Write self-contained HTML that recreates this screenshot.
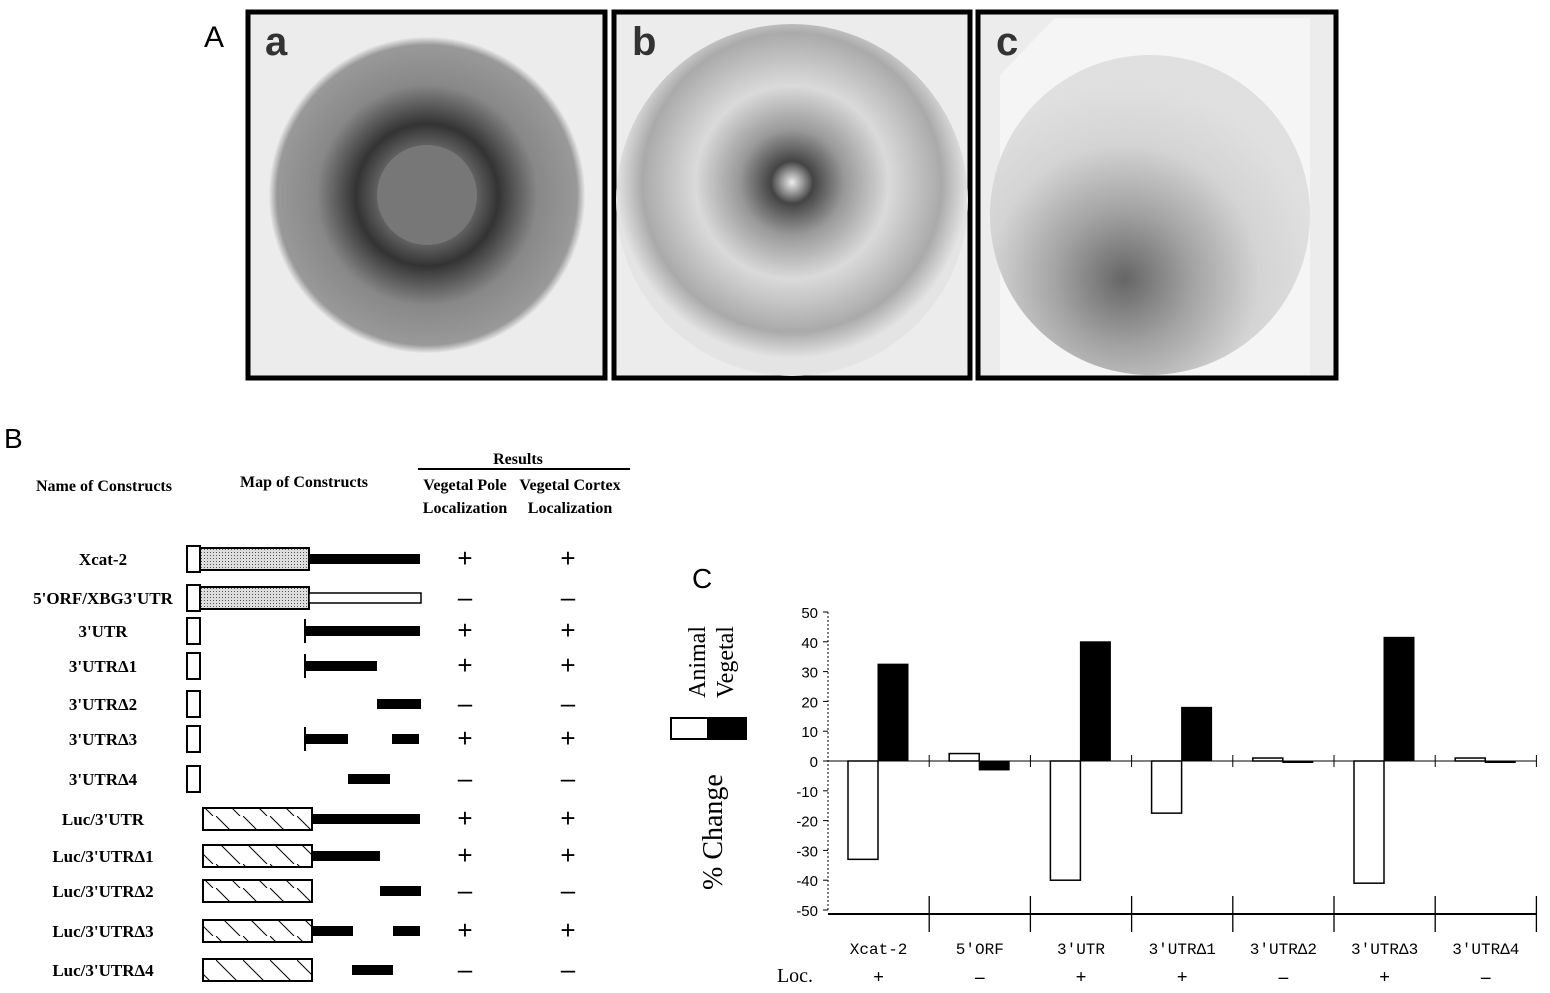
<!DOCTYPE html>
<html><head><meta charset="utf-8">
<style>
body{margin:0;background:#fff;}
svg{display:block;font-family:"Liberation Serif",serif;}
.sans{font-family:"Liberation Sans",sans-serif;}
.mono{font-family:"Liberation Mono",monospace;}
</style></head>
<body>
<svg width="1550" height="993" viewBox="0 0 1550 993">
<defs>
<radialGradient id="ga" cx="0.5" cy="0.5" r="0.5">
<stop offset="0" stop-color="#777"/><stop offset="0.3" stop-color="#666"/><stop offset="0.45" stop-color="#333"/><stop offset="0.7" stop-color="#888"/><stop offset="0.95" stop-color="#999"/><stop offset="1" stop-color="#e8e8e8"/></radialGradient>
<radialGradient id="gb" cx="0.5" cy="0.45" r="0.5">
<stop offset="0" stop-color="#eee"/><stop offset="0.12" stop-color="#444"/><stop offset="0.3" stop-color="#999"/><stop offset="0.55" stop-color="#dadada"/><stop offset="0.85" stop-color="#aaa"/><stop offset="1" stop-color="#e4e4e4"/></radialGradient>
<radialGradient id="gc" cx="0.42" cy="0.7" r="0.6">
<stop offset="0" stop-color="#555"/><stop offset="0.35" stop-color="#999"/><stop offset="0.7" stop-color="#d0d0d0"/><stop offset="1" stop-color="#ddd"/></radialGradient>
<clipPath id="ca"><rect x="250" y="14" width="353" height="362"/></clipPath>
<clipPath id="cb"><rect x="616" y="14" width="352" height="362"/></clipPath>
<clipPath id="cc"><rect x="980" y="14" width="354" height="362"/></clipPath>
<pattern id="dots" width="3" height="3" patternUnits="userSpaceOnUse"><rect width="3" height="3" fill="#ddd"/><rect width="1" height="1" fill="#555"/></pattern>
<pattern id="hatch" width="27" height="24" patternUnits="userSpaceOnUse"><line x1="0" y1="0" x2="24" y2="24" stroke="#000" stroke-width="1"/></pattern>
</defs>

<!-- Panel A -->
<text x="204" y="47" class="sans" font-size="30">A</text>
<g>
<rect x="248" y="12" width="357" height="366" fill="#ececec" stroke="#000" stroke-width="5"/>
<g clip-path="url(#ca)">
<circle cx="427" cy="195" r="158" fill="url(#ga)"/>
<circle cx="427" cy="195" r="50" fill="#777"/></g>
<text x="265" y="55" class="sans" font-size="40" font-weight="bold" fill="#333">a</text></g>
<g>
<rect x="614" y="12" width="356" height="366" fill="#ececec" stroke="#000" stroke-width="5"/>
<g clip-path="url(#cb)"><circle cx="792" cy="200" r="176" fill="url(#gb)"/></g>
<text x="632" y="55" class="sans" font-size="40" font-weight="bold" fill="#333">b</text></g>
<g>
<rect x="978" y="12" width="358" height="366" fill="#ececec" stroke="#000" stroke-width="5"/>
<g clip-path="url(#cc)">
<polygon points="1055,18 1310,18 1310,375 1000,375 1000,75" fill="#f5f5f5"/>
<circle cx="1150" cy="215" r="160" fill="url(#gc)" opacity="0.9"/></g>
<text x="996" y="55" class="sans" font-size="40" font-weight="bold" fill="#333">c</text></g>

<!-- Panel B -->
<g>
<text x="4" y="448" class="sans" font-size="28">B</text>
<g font-size="16" font-weight="bold" text-anchor="middle">
<text x="104" y="491">Name of Constructs</text>
<text x="304" y="487">Map of Constructs</text>
<text x="518" y="464">Results</text>
<text x="465" y="490">Vegetal Pole</text><text x="465" y="513">Localization</text>
<text x="570" y="490">Vegetal Cortex</text><text x="570" y="513">Localization</text>
</g>
<line x1="418" y1="469" x2="630" y2="469" stroke="#000" stroke-width="2"/>
<g id="rows"></g>
</g>

<!-- Panel C -->
<text x="692" y="588" class="sans" font-size="28">C</text>
<g>
<text transform="translate(705,698) rotate(-90)" font-size="24">Animal</text>
<text transform="translate(733,698) rotate(-90)" font-size="24">Vegetal</text>
<rect x="671" y="718" width="37" height="21" fill="#fff" stroke="#000" stroke-width="2"/>
<rect x="708" y="718" width="38" height="21" fill="#000" stroke="#000" stroke-width="2"/>
</g>
<text transform="translate(722,890) rotate(-90)" font-size="28">% Change</text>
<g id="chart"></g>
</svg>
<script>
const categories=["Xcat-2","5\u2032ORF","3\u2032UTR","3\u2032UTR\u03941","3\u2032UTR\u03942","3\u2032UTR\u03943","3\u2032UTR\u03944"];
const animalVals=[-33,2.5,-40,-17.5,1,-41,1];
const vegetalVals=[32.5,-3,40,18,-0.5,41.5,-0.5];
const locLabels=["+","\u2013","+","+","\u2013","+","\u2013"];
const yTicks=[50,40,30,20,10,0,-10,-20,-30,-40,-50];

const NS="http://www.w3.org/2000/svg";
function mk(parent,tag,attrs,text){const e=document.createElementNS(NS,tag);for(const k in attrs)e.setAttribute(k,attrs[k]);if(text!==undefined)e.textContent=text;parent.appendChild(e);return e;}
const chart=document.getElementById('chart');
const x0=828,catW=101.2;
function y(v){return 761-v*2.98;}
function xc(i){return x0+i*catW;}
let e=mk(chart,'line',{x1:x0,y1:y(50),x2:x0,y2:y(-50),stroke:'#000','stroke-width':1,'stroke-dasharray':'2,2'});


yTicks.forEach(t=>{
 const l=mk(chart,'line',{x1:x0-5,y1:y(t),x2:x0,y2:y(t),stroke:'#000'});
 
 
 const tx=mk(chart,'text',{x:x0-10,y:y(t)+6,'text-anchor':'end','font-size':15,class:'sans'},String(t));
 
 
});
e=mk(chart,'line',{x1:x0,y1:y(0),x2:x0+7*catW,y2:y(0),stroke:'#000','stroke-width':1});


e=mk(chart,'line',{x1:x0,y1:914,x2:x0+7*catW,y2:914,stroke:'#000','stroke-width':2});


for(let i=1;i<=7;i++){
 const t=mk(chart,'line',{x1:xc(i),y1:896,x2:xc(i),y2:932,stroke:'#000','stroke-width':1.3});
 
 
 const z=mk(chart,'line',{x1:xc(i),y1:y(0)-6,x2:xc(i),y2:y(0)+6,stroke:'#000'});
 
 
}
const lt=mk(chart,'text',{x:795,y:982,'text-anchor':'middle','font-size':20},'Loc.');


categories.forEach((c,i)=>{
 const a=animalVals[i],v=vegetalVals[i];
 const ra=mk(chart,'rect',{x:xc(i)+20,y:Math.min(y(a),y(0)),width:30,height:Math.abs(y(a)-y(0)),fill:'#fff',stroke:'#000','stroke-width':1.5});
 
 
 const rv=mk(chart,'rect',{x:xc(i)+50,y:Math.min(y(v),y(0)),width:30,height:Math.abs(y(v)-y(0)),fill:'#000',stroke:'#000','stroke-width':1});
 
 
 const cl=mk(chart,'text',{x:xc(i)+catW/2,y:954,'text-anchor':'middle','font-size':16,class:'mono'},c);
 
 
 const ll=mk(chart,'text',{x:xc(i)+catW/2,y:983,'text-anchor':'middle','font-size':19,'font-weight':'bold'},locLabels[i]);
 
 
});

// Panel B rows
const rowNames=["Xcat-2","5'ORF/XBG3'UTR","3'UTR","3'UTR\u03941","3'UTR\u03942","3'UTR\u03943","3'UTR\u03944","Luc/3'UTR","Luc/3'UTR\u03941","Luc/3'UTR\u03942","Luc/3'UTR\u03943","Luc/3'UTR\u03944"];
const rowY=[559,598,631,666,704,739,779,819,856,891,931,970];
const rowRes=["+","\u2013","+","+","\u2013","+","\u2013","+","+","\u2013","+","\u2013"];
const segs=[[[309,420]],[],[[305,420]],[[305,377]],[[377,421]],[[305,348],[392,419]],[[348,390]],[[312,420]],[[312,380]],[[380,421]],[[312,353],[393,420]],[[352,393]]];
const rows=document.getElementById('rows');
rowNames.forEach((n,i)=>{
 const cy=rowY[i];
 const t=mk(rows,'text',{x:103,y:cy+6,'text-anchor':'middle','font-size':17,'font-weight':'bold'},n);
 
 
 if(i<7){
  const b=mk(rows,'rect',{x:187,y:cy-13,width:13,height:26,fill:'#fff',stroke:'#000','stroke-width':2});
  
  
 }
 if(i<2){
  const s=mk(rows,'rect',{x:200,y:cy-11,width:109,height:22,fill:'url(#dots)',stroke:'#000','stroke-width':2});
  
  
 }
 if(i===1){
  const w=mk(rows,'rect',{x:309,y:cy-5,width:112,height:10,fill:'#fff',stroke:'#000','stroke-width':1.5});
  
  
 }
 if(i>=7){
  const h=mk(rows,'rect',{x:203,y:cy-11,width:109,height:22,fill:'url(#hatch)',stroke:'#000','stroke-width':2});
  
  
 }
 if(i===2||i===3||i===5){
  const v=mk(rows,'line',{x1:305,y1:cy-12,x2:305,y2:cy+12,stroke:'#000','stroke-width':2});
  
  
 }
 segs[i].forEach(sg=>{
  const r=mk(rows,'rect',{x:sg[0],y:cy-5,width:sg[1]-sg[0],height:10,fill:'#000'});
  
  
 });
 [465,568].forEach((x,j)=>{
  const r=mk(rows,'text',{x:x,y:cy+8,'text-anchor':'middle','font-size':26,class:'sans'},rowRes[i]);
  
  
 });
});
</script>
</body></html>
